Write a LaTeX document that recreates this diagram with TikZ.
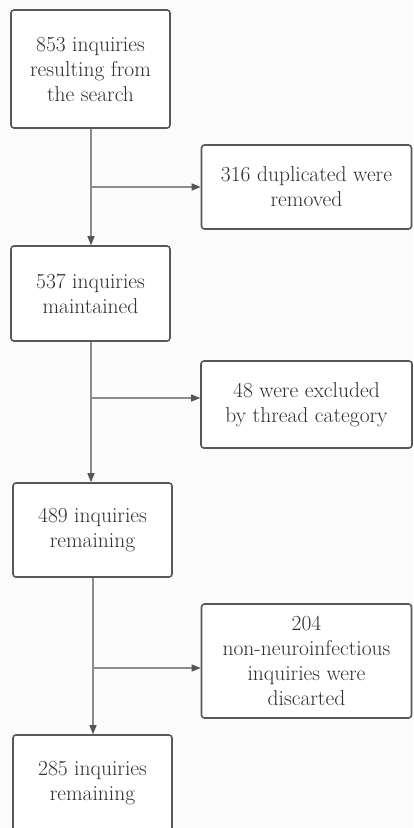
\documentclass[tikz,border=0pt]{standalone}
\usetikzlibrary{arrows.meta}
\definecolor{bordergray}{HTML}{585858}
\definecolor{linegray}{HTML}{8C8C8C}
\definecolor{tipgray}{HTML}{555555}
\definecolor{bggray}{HTML}{FBFBFB}
\definecolor{textgray}{HTML}{2E2E2E}
\begin{document}
\begin{tikzpicture}[x=1pt,y=-1pt,
  box/.style={draw=bordergray, line width=1.6pt, rounded corners=3pt, fill=white,
    align=center, inner sep=0pt, font=\fontsize{21.5}{25}\selectfont, text=textgray},
  conn/.style={draw=linegray, line width=1.1pt,
    -{Triangle[length=9pt,width=7pt,fill=tipgray,color=tipgray]}}]
\useasboundingbox (0,0) rectangle (413,828);
\fill[bggray] (0,0) rectangle (413,828);
\begin{scope}
\clip (0,0) rectangle (413,828);
\node[box, minimum width=159pt, minimum height=118pt] (b1) at (90.5,69) {853 inquiries\\resulting from\\the search};
\node[box, minimum width=210pt, minimum height=84pt] (b2) at (306.5,187) {316 duplicated were\\removed};
\node[box, minimum width=159pt, minimum height=95pt] (b3) at (90.5,293.5) {537 inquiries\\maintained};
\node[box, minimum width=211pt, minimum height=87pt] (b4) at (306.5,404.5) {48 were excluded\\by thread category};
\node[box, minimum width=159pt, minimum height=94pt] (b5) at (92.5,530) {489 inquiries\\remaining};
\node[box, minimum width=210pt, minimum height=114pt] (b6) at (306.5,661) {204\\non-neuroinfectious\\inquiries were\\discarted};
\node[box, minimum width=159pt, minimum height=96pt] (b7) at (92.5,783) {285 inquiries\\remaining};
\end{scope}
\coordinate (j1) at (91,187);
\coordinate (j2) at (91,398);
\coordinate (j3) at (93,668);
\draw[conn] (b1.south -| j1) -- (b3.north -| j1);
\draw[conn] (j1) -- (b2.west |- j1);
\draw[conn] (b3.south -| j2) -- (b5.north -| j2);
\draw[conn] (j2) -- (b4.west |- j2);
\draw[conn] (b5.south -| j3) -- (b7.north -| j3);
\draw[conn] (j3) -- (b6.west |- j3);
\end{tikzpicture}
\end{document}
